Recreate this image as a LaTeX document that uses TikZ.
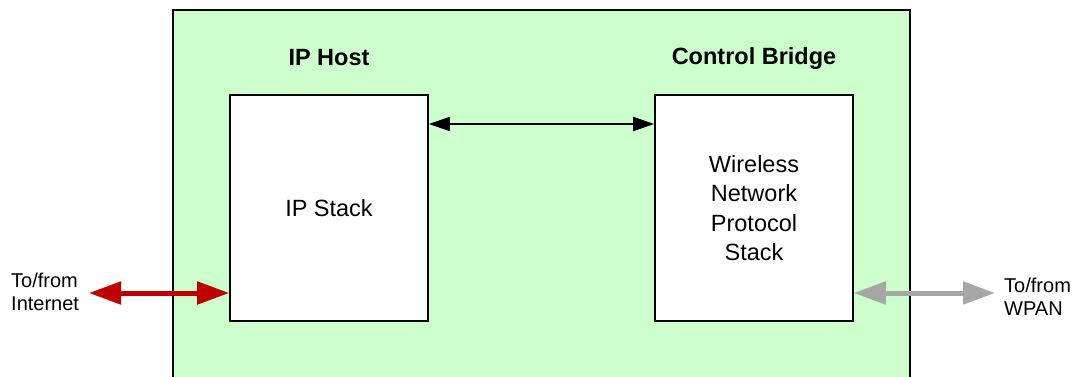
\documentclass[tikz,border=0pt]{standalone}
\usepackage{fontspec}
\setmainfont{Liberation Sans}
\usetikzlibrary{arrows.meta}
\definecolor{bggreen}{HTML}{CCFFCC}
\definecolor{darkred}{HTML}{C00000}
\definecolor{lgray}{HTML}{A6A6A6}
\tikzset{
  blk/.style={draw=black, line width=1.6pt, fill=white, minimum width=198pt, minimum height=226pt, inner sep=0pt, align=center, font=\fontsize{23.5}{29.3}\selectfont},
  ttl/.style={font=\fontsize{23.5}{26}\selectfont\bfseries},
  ext/.style={align=left, font=\fontsize{20}{23.5}\selectfont, inner sep=0pt, anchor=west},
  bigarrow/.style={line width=5pt, {Triangle[length=32pt,width=22pt]}-{Triangle[length=32pt,width=22pt]}},
}
\begin{document}
\begin{tikzpicture}[x=1pt,y=-1pt]
\useasboundingbox (0,0) rectangle (1082,377);
\fill[bggreen] (173,10) rectangle (910,380);
\draw[line width=1.6pt] (173,380) -- (173,10) -- (910,10) -- (910,380);
\node[ttl] (t1) at (329,58) {IP Host};
\node[ttl] (t2) at (754,58) {Control Bridge};
\node[blk] (ip) at (329,208) {IP Stack};
\node[blk] (cb) at (754,208) {Wireless\\Network\\Protocol\\Stack};
\coordinate (a1) at (ip.east |- 0,124);
\coordinate (a2) at (cb.west |- 0,124);
\draw[line width=1.6pt, {Triangle[length=21pt,width=14pt]}-{Triangle[length=21pt,width=14pt]}] (a1) -- (a2);
\node[ext] (inet) at (11,292) {To/from\\Internet};
\node[ext] (wpan) at (1004,297) {To/from\\WPAN};
\coordinate (r1) at (89,293);
\coordinate (r2) at (ip.west |- 0,293);
\draw[bigarrow, darkred] (r1) -- (r2);
\coordinate (g1) at (cb.east |- 0,293);
\coordinate (g2) at (995,293);
\draw[bigarrow, lgray] (g1) -- (g2);
\end{tikzpicture}
\end{document}
